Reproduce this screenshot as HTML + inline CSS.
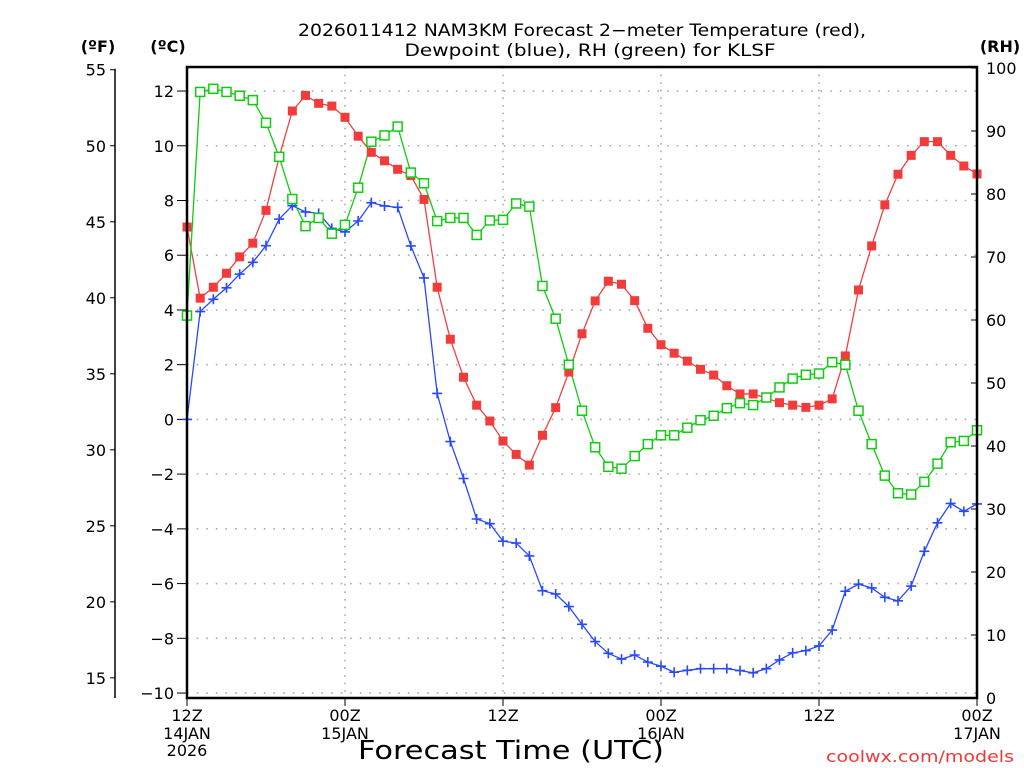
<!DOCTYPE html>
<html><head><meta charset="utf-8"><style>
body{margin:0;background:#fff;width:1024px;height:768px;overflow:hidden}
svg{display:block;font-family:"DejaVu Sans","Liberation Sans",sans-serif}
</style></head><body>
<svg id="chart" width="1024" height="768" viewBox="0 0 1024 768" xmlns="http://www.w3.org/2000/svg">
<text x="582" y="36" font-size="17" text-anchor="middle" fill="#000" textLength="568" lengthAdjust="spacingAndGlyphs">2026011412 NAM3KM Forecast 2−meter Temperature (red),</text>
<text x="590" y="56" font-size="17" text-anchor="middle" fill="#000" textLength="371" lengthAdjust="spacingAndGlyphs">Dewpoint (blue), RH (green) for KLSF</text>
<text x="98" y="52" font-size="16" font-weight="bold" text-anchor="middle">(ºF)</text>
<text x="168" y="52" font-size="16" font-weight="bold" text-anchor="middle">(ºC)</text>
<text x="1000" y="52" font-size="16" font-weight="bold" text-anchor="middle">(RH)</text>
<text x="511" y="759" font-size="26" text-anchor="middle" textLength="306" lengthAdjust="spacingAndGlyphs">Forecast Time (UTC)</text>
<text x="1014" y="762" font-size="16" text-anchor="end" fill="#f03838" textLength="188" lengthAdjust="spacingAndGlyphs">coolwx.com/models</text>
<g id="grid"></g><g id="axes"></g><g id="series"></g>
<rect x="187" y="67" width="790" height="631" fill="none" stroke="#000" stroke-width="2.5"/>
</svg>
<script>
const hours = Array.from({length:61},(_,i)=>i);
const tempC = [7.03,4.43,4.83,5.34,5.94,6.44,7.64,9.59,11.27,11.84,11.55,11.45,11.04,10.35,9.76,9.45,9.14,8.91,8.04,4.83,2.93,1.54,0.52,-0.06,-0.79,-1.28,-1.67,-0.58,0.43,1.73,3.13,4.33,5.05,4.94,4.34,3.33,2.73,2.42,2.13,1.83,1.62,1.23,0.93,0.93,0.78,0.61,0.52,0.44,0.52,0.75,2.32,4.73,6.34,7.84,8.96,9.65,10.15,10.15,9.65,9.26,8.97];
const dewC = [0,3.94,4.39,4.81,5.31,5.74,6.35,7.32,7.81,7.58,7.53,6.98,6.85,7.25,7.92,7.80,7.75,6.34,5.17,0.95,-0.81,-2.16,-3.64,-3.81,-4.45,-4.52,-4.99,-6.26,-6.38,-6.84,-7.49,-8.12,-8.55,-8.76,-8.61,-8.87,-9.02,-9.24,-9.17,-9.11,-9.11,-9.11,-9.18,-9.26,-9.11,-8.79,-8.53,-8.45,-8.28,-7.70,-6.28,-6.02,-6.16,-6.50,-6.63,-6.09,-4.82,-3.78,-3.07,-3.36,-3.09];
const rhPct = [60.7,96.2,96.7,96.2,95.6,94.9,91.3,85.9,79.2,74.9,76.2,73.7,75.1,81.0,88.3,89.3,90.7,83.4,81.7,75.7,76.2,76.2,73.5,75.8,75.9,78.5,78.0,65.4,60.2,52.9,45.6,39.8,36.7,36.4,38.4,40.3,41.7,41.7,42.9,44.1,44.8,46.0,46.8,46.5,47.7,49.3,50.7,51.3,51.5,53.3,52.9,45.6,40.3,35.3,32.5,32.3,34.3,37.2,40.6,40.8,42.5];
const cTicks = [-10,-8,-6,-4,-2,0,2,4,6,8,10,12];
const fTicks = [15,20,25,30,35,40,45,50,55];
const rhTicks = [0,10,20,30,40,50,60,70,80,90,100];
const xTickHours = [0,12,24,36,48,60];
const xTickTimes = ["12Z","00Z","12Z","00Z","12Z","00Z"];
const xTickDates = ["14JAN","15JAN","","16JAN","","17JAN"];
const xTickYears = ["2026","","","","",""];

const NS="http://www.w3.org/2000/svg";
const X=h=>187+h*(790/60);
const YC=c=>419.4-c*27.364;
const YF=f=>YC((f-32)/1.8);
const YR=r=>698-r*6.3;
function mk(tag,attrs,parent,text){const e=document.createElementNS(NS,tag);for(const k in attrs)e.setAttribute(k,attrs[k]);if(text!==undefined)e.textContent=text;parent.appendChild(e);return e;}
const grid=document.getElementById('grid'),axes=document.getElementById('axes'),series=document.getElementById('series');
cTicks.forEach(c=>{
  const g=mk('line',{x1:187,x2:977,y1:YC(c),y2:YC(c),stroke:'#aaa','stroke-width':1.6,'stroke-dasharray':'1.6 8'},grid);
  
  
  const t=mk('line',{x1:177,x2:187,y1:YC(c),y2:YC(c),stroke:'#000','stroke-width':1},axes);
  
  
  const l=mk('text',{x:174,y:YC(c)+6,'font-size':16,'text-anchor':'end'},axes,c<0?'−'+(-c):String(c));
  
  
});
const fl=mk('line',{x1:115,x2:115,y1:YF(55)-1,y2:698,stroke:'#000','stroke-width':1.5},axes);


fTicks.forEach(f=>{
  const t=mk('line',{x1:110,x2:115,y1:YF(f),y2:YF(f),stroke:'#000','stroke-width':1},axes);
  
  
  const l=mk('text',{x:106,y:YF(f)+6,'font-size':16,'text-anchor':'end'},axes,String(f));
  
  
});
rhTicks.forEach(r=>{
  const t=mk('line',{x1:971,x2:977,y1:YR(r),y2:YR(r),stroke:'#000','stroke-width':1},axes);
  
  
  const l=mk('text',{x:986,y:YR(r)+6,'font-size':16,'text-anchor':'start'},axes,String(r));
  
  
});
xTickHours.forEach((h,i)=>{
  if(i>0&&i<xTickHours.length-1){
    const g=mk('line',{x1:X(h),x2:X(h),y1:67,y2:698,stroke:'#aaa','stroke-width':1.6,'stroke-dasharray':'1.6 6'},grid);
    
    
  }
  const t=mk('line',{x1:X(h),x2:X(h),y1:698,y2:706,stroke:'#000','stroke-width':1},axes);
  
  
  const a=mk('text',{x:X(h),y:721,'font-size':16,'text-anchor':'middle'},axes,xTickTimes[i]);
  
  
  if(xTickDates[i]){const b=mk('text',{x:X(h),y:739,'font-size':16,'text-anchor':'middle'},axes,xTickDates[i]);
  
  }
  if(xTickYears[i]){const c=mk('text',{x:X(h),y:756,'font-size':16,'text-anchor':'middle'},axes,xTickYears[i]);
  
  }
});
function line(vals,yf,color,name){
  const p=mk('polyline',{points:vals.map((v,i)=>X(hours[i])+','+yf(v)).join(' '),fill:'none',stroke:color,'stroke-width':1.3},series);
  
  
}
line(tempC,YC,'#f04040','temperature-line');
line(dewC,YC,'#2848ff','dewpoint-line');
line(rhPct,YR,'#10cc10','rh-line');
dewC.forEach((v,i)=>{const x=X(hours[i]),y=YC(v);
  const m=mk('path',{d:`M${x-5},${y}H${x+5}M${x},${y-5}V${y+5}`,stroke:'#2848ff','stroke-width':1.6,fill:'none'},series);
  
  
});
tempC.forEach((v,i)=>{const x=X(hours[i]),y=YC(v);
  const m=mk('rect',{x:x-4.5,y:y-4.5,width:9,height:9,fill:'#f23c3c'},series);
  
  
});
rhPct.forEach((v,i)=>{const x=X(hours[i]),y=YR(v);
  const m=mk('rect',{x:x-4.5,y:y-4.5,width:9,height:9,fill:'#fff',stroke:'#10cc10','stroke-width':1.5},series);
  
  
});
</script>
</body></html>
